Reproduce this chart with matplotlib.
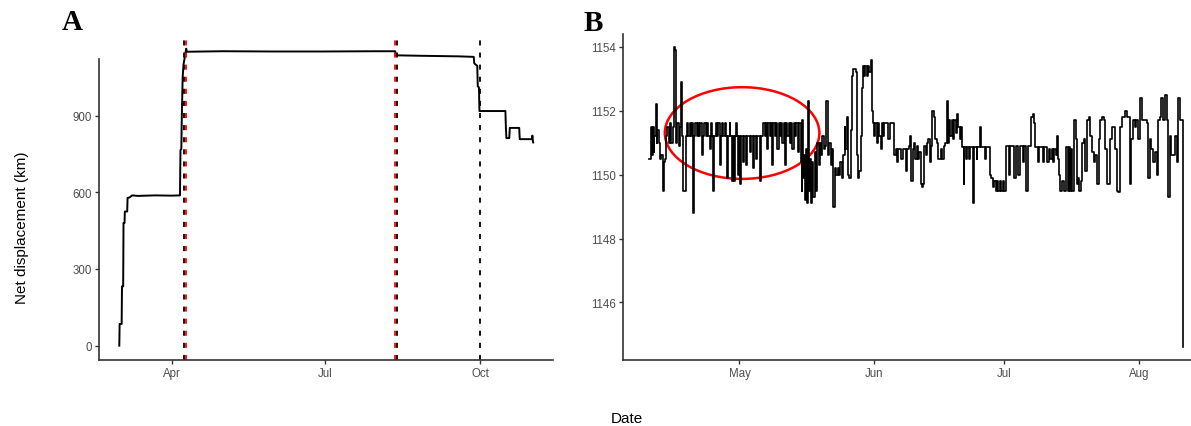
import matplotlib
matplotlib.use("Agg")
import matplotlib.dates as mdates
import matplotlib.pyplot as plt
import numpy as np
import pandas as pd
from matplotlib.patches import Ellipse

# day 0 is 1 April
START = pd.Timestamp("2019-04-01")

# whole track: net displacement (km)
track_day = [-31.1, -30.9, -29.7, -29.5, -28.8, -28.6, -28.0, -27.8, -26.4, -26.2,
             -25.0, -23.5, -20.0, -10.0, 0.0, 4.9, 5.2, 5.7, 6.0, 6.5, 7.0, 7.8,
             8.3, 8.6, 9.0, 30.0, 60.0, 90.0, 120.0, 132.6, 132.9, 150.0, 170.0,
             179.2, 179.5, 180.3, 181.3, 181.6, 182.3, 182.6, 198.0, 198.3, 198.6,
             200.3, 200.6, 206.2, 206.5, 213.8, 214.0, 214.3, 214.5]
track_km = [0, 85, 85, 232, 232, 480, 480, 525, 525, 578,
            580, 588, 586, 588, 587, 588, 765, 770, 900, 1050, 1100, 1130,
            1150, 1162, 1150, 1152, 1151, 1151, 1152, 1152, 1136, 1134, 1132,
            1130, 1105, 1100, 1095, 1015, 1010, 918, 918, 850, 812,
            812, 852, 852, 808, 808, 822, 800, 795]

# event markers
black_events = [7.4, 133.7, 183.0]
red_events = [8.6, 132.6]

# resident period between the red markers
resid_day = [
    9.2, 9.5, 9.6, 9.8, 10.0, 10.2, 10.4, 10.7, 10.9, 11.1, 11.4, 11.7, 12.0, 12.3,
    12.6, 12.9, 13.1, 13.4, 13.7, 14.0, 14.3, 14.6, 14.8, 15.2, 15.4, 15.7, 16.0,
    16.3, 16.5, 16.8, 17.0, 17.4, 17.6, 17.9, 18.2, 18.5, 18.8, 19.1, 19.35, 19.5,
    19.8, 20.1, 20.4, 20.7, 21.0, 21.3, 21.6, 21.9, 22.2, 22.5, 22.8, 23.1, 23.4,
    23.7, 23.95, 24.2, 24.5, 24.8, 25.1, 25.4, 25.7, 26.0, 26.3, 26.6, 26.9, 27.2,
    27.4, 27.7, 27.9, 28.2, 28.4, 28.7, 28.9, 29.2, 29.4, 29.7, 29.9, 30.1, 30.3,
    30.8, 31.0, 31.6, 31.8, 32.4, 32.6, 33.1, 33.3, 33.9, 34.1, 34.8, 35.0, 35.5,
    35.8, 36.1, 36.4, 36.6, 37.0, 37.3, 37.6, 37.8, 38.1, 38.4, 38.7, 39.0,
    39.3, 39.6, 39.9, 40.2, 40.5, 40.7, 41.0, 41.3, 41.6, 41.9, 42.2, 42.5, 42.8,
    43.1, 43.4, 43.7, 43.9, 44.1, 44.3, 44.5, 44.7, 44.9, 45.1, 45.4, 45.6, 45.8,
    46.0, 46.3, 46.5, 46.8, 47.0, 47.3, 47.6, 47.9, 48.2, 48.5, 48.8, 49.1, 49.4,
    49.7, 50.0, 50.3, 50.7, 51.0, 51.3, 51.6, 51.9, 52.2, 52.6, 52.9, 53.2, 53.6,
    53.9, 54.2, 54.4, 54.7, 55.0, 55.3, 55.6, 55.9, 56.2, 56.5, 56.8, 57.0, 57.3,
    57.6, 57.9, 58.2, 58.4, 58.7, 59.0, 59.3, 59.6, 59.9, 60.2, 60.5, 60.7, 61.0,
    61.3, 61.6, 61.9, 62.2, 62.5, 62.8, 63.1, 63.4, 63.7, 64.0, 64.3, 64.6, 65.0,
    65.4, 65.7, 66.0, 66.3, 66.6, 67.0, 67.3, 67.6, 68.0, 68.3, 68.6, 69.0, 69.3,
    69.6, 69.9,
    70.2, 70.5, 70.8, 71.1, 71.4, 71.7, 72.0, 72.3, 72.6, 72.9, 73.2, 73.5, 73.8,
    74.1, 74.4, 74.8, 75.1, 75.4, 75.7, 76.1, 76.4, 76.7, 77.0, 77.4, 77.7, 78.0,
    78.3, 78.6, 78.9, 79.2, 79.5, 79.8, 80.1, 80.4, 80.7, 81.0, 81.2, 81.6, 81.8,
    82.2, 82.4, 82.9, 83.1, 83.8, 84.0, 84.6, 84.8, 85.5, 85.7, 86.6, 86.8, 87.4,
    87.7, 88.0, 88.4, 88.7, 89.0, 89.3, 89.6, 89.9, 90.2, 90.6, 91.0, 91.4, 91.8,
    92.1, 92.4, 93.0, 93.3, 93.6, 93.9, 94.2, 94.5, 95.0, 95.3, 95.6, 96.0, 96.4,
    96.8, 97.2, 97.5, 97.8, 98.0, 98.5, 98.8, 99.1, 99.6, 99.9, 100.2, 100.7, 100.9,
    101.3, 101.6, 101.9, 102.2, 102.5, 102.8, 103.1, 103.3, 103.6, 103.8, 104.1,
    104.4, 104.7, 105.0, 105.3, 105.6, 105.9, 106.2, 106.4, 106.7, 107.1, 107.4,
    107.7, 108.0, 108.3, 108.6, 109.0, 109.3, 109.6, 110.0, 110.4, 110.8, 111.2,
    111.6, 112.0, 112.3, 112.7, 113.0, 113.5, 113.9, 114.3, 114.6, 114.9, 115.3,
    115.7, 116.1, 116.5, 116.9, 117.2, 117.6, 118.0, 118.4, 118.8, 119.2, 119.6,
    119.9, 120.2, 120.6, 121.0, 121.4, 121.8, 122.2, 122.6, 123.0, 123.5, 123.9,
    124.2, 124.5, 124.9, 125.3, 125.7, 126.1, 126.5, 126.8, 127.2, 127.6, 128.1,
    128.4, 128.8, 129.1, 129.5, 129.9, 130.3, 130.7, 131.0, 131.4, 131.8, 132.0,
    132.1,
]
resid_km = [
    1150.5, 1150.5, 1151.5, 1150.6, 1151.5, 1150.7, 1151.2, 1152.2, 1151.0, 1151.4,
    1151.0, 1150.5, 1150.6, 1149.5, 1150.4, 1150.5, 1151.2, 1151.5, 1151.0, 1151.6,
    1151.0, 1151.5, 1154.0, 1153.9, 1151.0, 1151.6, 1150.9, 1151.5, 1152.9, 1151.2,
    1149.5, 1149.5, 1151.2, 1151.6, 1151.2, 1151.6, 1151.2, 1151.6, 1148.8, 1151.2,
    1151.6, 1151.2, 1151.6, 1151.2, 1151.6, 1150.6, 1151.2, 1151.6, 1151.2, 1151.6,
    1151.2, 1150.8, 1151.6, 1151.2, 1149.5, 1151.2, 1151.6, 1151.2, 1151.6, 1150.3,
    1151.2, 1151.6, 1151.2, 1151.6, 1151.2, 1149.9, 1151.2, 1151.6, 1151.2, 1149.8,
    1151.2, 1149.8, 1151.2, 1151.6, 1151.2, 1150.0, 1151.2, 1149.7, 1151.2, 1150.4,
    1151.2, 1150.3, 1151.2, 1150.7, 1151.2, 1150.2, 1151.2, 1150.5, 1151.2, 1149.8,
    1151.2, 1151.6, 1151.2, 1151.6, 1150.8, 1151.6, 1151.2, 1151.6, 1150.3, 1151.6,
    1151.2, 1151.6, 1150.8, 1151.6,
    1151.2, 1151.6, 1151.0, 1151.6, 1150.3, 1151.6, 1151.2, 1151.6, 1151.0, 1151.6,
    1150.8, 1151.6, 1151.2, 1151.6, 1150.7, 1151.6, 1151.6, 1150.4, 1149.5, 1151.7,
    1149.9, 1150.6, 1149.2, 1150.8, 1149.1, 1152.3, 1149.5, 1150.5, 1149.1, 1150.4,
    1149.3, 1150.7, 1149.5, 1151.0, 1150.3, 1151.0, 1150.6, 1151.2, 1150.8, 1150.9,
    1152.3, 1150.6, 1151.0, 1150.3, 1150.8, 1149.0, 1150.2, 1150.0, 1150.2, 1150.0,
    1150.4, 1149.9, 1150.6, 1151.5, 1150.8, 1151.8, 1150.0, 1149.9, 1151.4, 1153.1,
    1153.3, 1153.3, 1153.2, 1150.6, 1149.9, 1150.1, 1151.2, 1152.7, 1153.4, 1153.1,
    1153.4, 1153.1, 1153.4, 1153.2, 1153.6, 1152.0, 1151.6, 1151.2, 1151.6, 1151.0,
    1151.6, 1151.2, 1150.8, 1151.6, 1151.2, 1151.6, 1151.6, 1151.6, 1151.1, 1151.6,
    1151.6, 1151.6, 1150.6, 1150.8, 1150.4, 1150.8, 1150.8, 1150.5, 1150.8, 1150.8,
    1150.1, 1150.8, 1150.9, 1151.2, 1149.8, 1150.8,
    1151.0, 1150.5, 1150.9, 1150.5, 1150.7, 1149.7, 1149.6, 1149.7, 1150.9, 1150.6,
    1151.0, 1151.1, 1150.4, 1150.9, 1152.0, 1151.8, 1151.1, 1151.0, 1150.5, 1150.5,
    1150.8, 1150.5, 1150.9, 1151.0, 1152.3, 1151.0, 1151.7, 1151.2, 1151.7, 1151.1,
    1151.7, 1151.3, 1151.9, 1151.5, 1151.1, 1151.5, 1150.85, 1149.7, 1150.85, 1150.5,
    1150.85, 1150.5, 1150.85, 1149.1, 1150.85, 1150.5, 1150.85, 1151.5, 1150.85,
    1150.5, 1150.85, 1150.85, 1150.0, 1149.9, 1149.6, 1149.8, 1149.5, 1149.8, 1149.5,
    1149.8, 1149.5, 1149.8, 1149.5, 1150.9, 1150.9, 1150.0, 1150.9, 1150.9, 1149.9,
    1150.9, 1150.9, 1150.0, 1150.9, 1150.9, 1150.4, 1150.9, 1149.5, 1150.9, 1150.9,
    1151.8, 1151.9, 1151.6, 1150.85, 1150.85, 1150.4, 1150.85, 1150.85, 1150.4,
    1150.85, 1150.85, 1150.4,
    1150.8, 1150.5, 1150.8, 1150.4, 1150.8, 1150.6, 1151.2, 1150.5, 1150.0, 1149.5,
    1149.5, 1149.8, 1149.5, 1149.5, 1150.85, 1149.5, 1150.85, 1149.5, 1150.8, 1149.5,
    1151.7, 1151.1, 1149.7, 1149.9, 1149.5, 1149.8, 1151.0, 1151.1, 1150.1, 1151.7,
    1151.8, 1151.2, 1150.7, 1150.4, 1150.6, 1149.7, 1151.1, 1151.7, 1151.8, 1151.7,
    1150.8, 1149.7, 1149.7, 1151.1, 1151.5, 1151.5, 1150.8, 1149.5, 1149.45, 1151.5,
    1151.8, 1151.8, 1152.0, 1151.8, 1151.8, 1149.7, 1151.1, 1151.7, 1151.5, 1151.7,
    1151.1, 1152.4, 1151.7, 1151.7, 1151.7, 1151.6, 1149.9, 1151.1, 1150.8, 1150.4,
    1150.7, 1150.0, 1151.7, 1151.8, 1152.4, 1151.7, 1152.5, 1151.7, 1149.3, 1151.2,
    1150.6, 1150.6, 1151.2, 1150.4, 1152.4, 1151.7, 1151.7, 1151.7, 1144.6,
]

track_ticks = [0, 91, 183]          # Apr, Jul, Oct
resid_ticks = [30, 61, 91, 122]     # May, Jun, Jul, Aug

DASH = (0, (2.8, 3.9))


def to_dates(days):
    return (START + pd.to_timedelta(np.asarray(days, dtype=float), unit="D")).to_numpy()


def to_num(day):
    return mdates.date2num(START + pd.Timedelta(days=day))


def style_axis(ax):
    for side in ("top", "right"):
        ax.spines[side].set_visible(False)
    for side in ("left", "bottom"):
        ax.spines[side].set_color("#333333")
        ax.spines[side].set_linewidth(1.2)
    ax.tick_params(colors="#333333", labelcolor="#4D4D4D", labelsize=8.3,
                   length=3, width=1.0, pad=2)
    ax.xaxis.set_major_formatter(mdates.DateFormatter("%b"))


plt.rcParams["font.family"] = ["Liberation Sans", "DejaVu Sans"]
fig = plt.figure(figsize=(11.91, 4.27), dpi=100)

# --- A: full track ---
ax_a = fig.add_axes([0.0829, 0.1546, 0.3815, 0.7518])
ax_a.plot(to_dates(track_day), track_km, color="black", lw=1.4)
for d in black_events:
    ax_a.axvline(to_num(d), color="black", lw=1.3, ls=DASH)
for d in red_events:
    ax_a.axvline(to_num(d), color="red", lw=1.3, ls=DASH)
ax_a.set_xlim(to_num(-43.3), to_num(226.3))
ax_a.set_ylim(-56, 1200)
ax_a.set_yticks([0, 300, 600, 900])
ax_a.set_xticks([to_num(d) for d in track_ticks])
style_axis(ax_a)
ax_a.spines["left"].set_bounds(-56, 1122)

# --- B: resident period ---
ax_b = fig.add_axes([0.5231, 0.1546, 0.4769, 0.7635])
ax_b.plot(to_dates(resid_day), resid_km, color="black", lw=1.2,
          drawstyle="steps-post")
ax_b.add_patch(Ellipse((to_num(30.6), 1151.3), width=35.6, height=2.87,
                       fill=False, edgecolor="red", lw=1.8))
ax_b.set_xlim(to_num(3.17), to_num(134.0))
ax_b.set_ylim(1144.2, 1154.4)
ax_b.set_yticks([1146, 1148, 1150, 1152, 1154])
ax_b.set_xticks([to_num(d) for d in resid_ticks])
style_axis(ax_b)

fig.text(0.0185, 0.466, "Net displacement (km)", rotation=90,
         ha="center", va="center", fontsize=11)
fig.text(0.5265, 0.019, "Date", ha="center", va="center", fontsize=11)
fig.text(0.0605, 0.947, "A", ha="center", va="center", fontsize=21,
         fontweight="bold", family="Liberation Serif")
fig.text(0.4983, 0.946, "B", ha="center", va="center", fontsize=21,
         fontweight="bold", family="Liberation Serif")

fig.savefig("out.png", dpi=100)
